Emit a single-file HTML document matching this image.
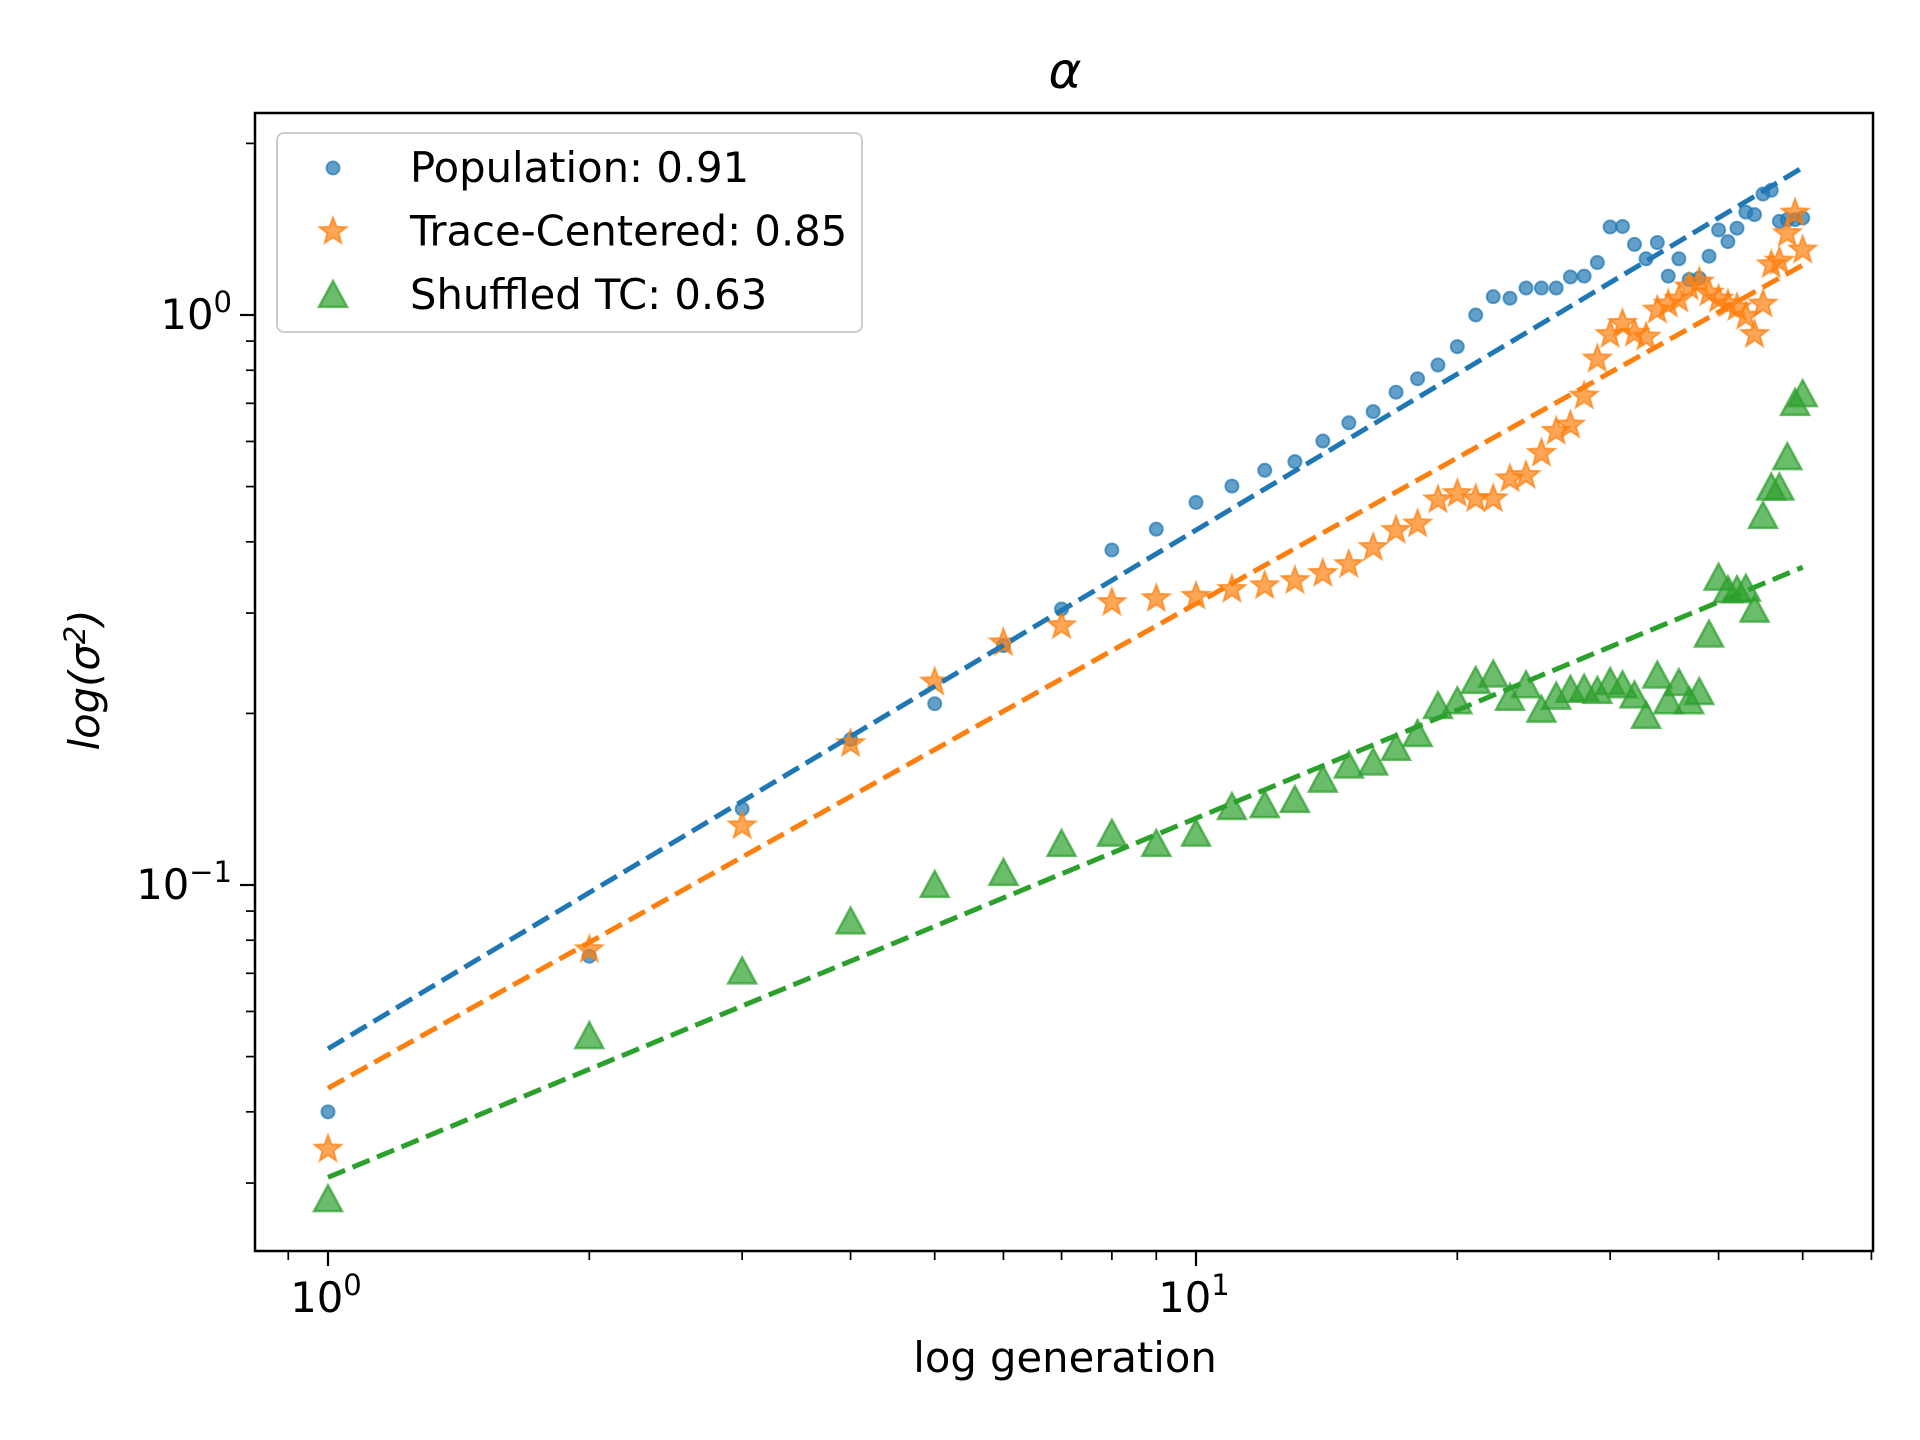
<!DOCTYPE html>
<html><head><meta charset="utf-8"><style>
html,body{margin:0;padding:0;background:#fff}
svg{display:block}
text{font-family:"DejaVu Sans","Liberation Sans",sans-serif;fill:#000}
</style></head><body>
<svg id="chart" width="1920" height="1440" viewBox="0 0 1920 1440" xmlns="http://www.w3.org/2000/svg">
<rect x="0" y="0" width="1920" height="1440" fill="#fff"/>
<text x="1065" y="88" font-size="50" font-style="italic" text-anchor="middle">α</text>
<g id="ticks"></g>
<g id="plot"></g>
<rect x="255" y="113" width="1618" height="1138" fill="none" stroke="#000" stroke-width="2.5"/>
<text x="1065" y="1372" font-size="41.7" text-anchor="middle">log generation</text>
<text transform="translate(99,680) rotate(-90)" font-size="41.7" text-anchor="middle" font-style="italic">log(σ<tspan font-size="29" dy="-14">2</tspan><tspan dy="14">)</tspan></text>
<g id="legend"></g>
</svg>
<script>
const generations = Array.from({length:50},(_,i)=>i+1);
const populationValues = [0.040,0.075,0.136,0.18,0.208,0.263,0.305,0.387,0.421,0.469,0.501,0.534,0.553,0.601,0.647,0.677,0.732,0.773,0.817,0.88,1.0,1.077,1.07,1.115,1.115,1.115,1.166,1.17,1.236,1.427,1.43,1.33,1.255,1.34,1.17,1.255,1.154,1.16,1.268,1.41,1.345,1.42,1.515,1.5,1.63,1.655,1.46,1.47,1.47,1.48];
const traceValues = [0.0344,0.077,0.127,0.177,0.227,0.266,0.285,0.313,0.318,0.321,0.330,0.335,0.342,0.352,0.365,0.391,0.419,0.430,0.474,0.486,0.476,0.476,0.516,0.523,0.572,0.625,0.641,0.721,0.837,0.924,0.966,0.929,0.915,1.02,1.045,1.066,1.12,1.143,1.093,1.066,1.045,1.03,0.995,0.924,1.045,1.225,1.243,1.39,1.51,1.30];
const shuffledValues = [0.0281,0.0543,0.0705,0.0863,0.1,0.105,0.118,0.123,0.118,0.123,0.137,0.138,0.141,0.153,0.162,0.164,0.174,0.184,0.206,0.21,0.228,0.234,0.213,0.224,0.203,0.214,0.22,0.221,0.219,0.227,0.224,0.215,0.198,0.233,0.21,0.226,0.21,0.218,0.275,0.346,0.329,0.329,0.331,0.304,0.444,0.498,0.498,0.563,0.701,0.726];
const fitSlopes = [0.91,0.85,0.63];
const fitIntercepts = [0.0516,0.044,0.0307];
const legendLabels = ["Population: 0.91","Trace-Centered: 0.85","Shuffled TC: 0.63"];
const xTickLabels = ["0","1"];
const yTickLabels = ["0","−1"];

const NS="http://www.w3.org/2000/svg";
const X=v=>328+Math.log10(v)*868;
const Y=v=>315-Math.log10(v)*570;
function mk(tag,attrs,parent){const e=document.createElementNS(NS,tag);for(const k in attrs)e.setAttribute(k,attrs[k]);parent.appendChild(e);return e;}
const plot=document.getElementById('plot'),ticks=document.getElementById('ticks'),legend=document.getElementById('legend');
const colors=["#1f77b4","#ff7f0e","#2ca02c"];
const light=["rgba(31,119,180,0.7)","rgba(255,127,14,0.7)","rgba(44,160,44,0.7)"];

// x ticks
const xMinor=[0.9,2,3,4,5,6,7,8,9,20,30,40,50,60];
xMinor.forEach(v=>{const t=mk('line',{x1:X(v),x2:X(v),y1:1251,y2:1260,stroke:'#000','stroke-width':1.7},ticks);
});
[1,10].forEach((v,i)=>{const t=mk('line',{x1:X(v),x2:X(v),y1:1251,y2:1266,stroke:'#000','stroke-width':2.2},ticks);

const l=mk('text',{x:X(v)-2,y:1312,'font-size':41.7,'text-anchor':'middle'},ticks);

l.innerHTML='10<tspan font-size="29" dy="-17">'+xTickLabels[i]+'</tspan>';});
// y ticks
const yMinor=[0.03,0.04,0.05,0.06,0.07,0.08,0.09,0.2,0.3,0.4,0.5,0.6,0.7,0.8,0.9,2];
yMinor.forEach(v=>{const t=mk('line',{x1:246,x2:255,y1:Y(v),y2:Y(v),stroke:'#000','stroke-width':1.7},ticks);
});
[1,0.1].forEach((v,i)=>{const t=mk('line',{x1:240,x2:255,y1:Y(v),y2:Y(v),stroke:'#000','stroke-width':2.2},ticks);

const l=mk('text',{x:232,y:Y(v)+14,'font-size':41.7,'text-anchor':'end'},ticks);

l.innerHTML='10<tspan font-size="29" dy="-17">'+yTickLabels[i]+'</tspan>';});

function star(cx,cy,R){let p=[];for(let k=0;k<10;k++){const r=k%2?R*0.42:R;const a=-Math.PI/2+k*Math.PI/5;p.push((cx+r*Math.cos(a)).toFixed(1)+','+(cy+r*Math.sin(a)).toFixed(1));}return p.join(' ');}
function tri(cx,cy,R){return `${cx},${cy-R} ${cx-R},${cy+R*0.85} ${cx+R},${cy+R*0.85}`;}
function marker(s,cx,cy,parent){
 if(s===0) return mk('circle',{cx,cy,r:6.5,fill:light[0],stroke:colors[0],'stroke-width':2,'stroke-opacity':0.7},parent);
 if(s===1) return mk('polygon',{points:star(cx,cy,14),fill:light[1],stroke:colors[1],'stroke-width':2,'stroke-opacity':0.7},parent);
 return mk('polygon',{points:tri(cx,cy,14),fill:light[2],stroke:colors[2],'stroke-width':2.5,'stroke-opacity':0.7},parent);
}
const series=[populationValues,traceValues,shuffledValues];
const names=['population','trace-centered','shuffled-tc'];
series.forEach((vals,s)=>{
 const g=mk('g',{},plot);
 
 vals.forEach((v,i)=>{const m=marker(s,X(generations[i]),Y(v),g);
  });
});
// fit lines on top
series.forEach((vals,s)=>{
 const x0=1,x1=generations[generations.length-1];
 const f=x=>fitIntercepts[s]*Math.pow(x,fitSlopes[s]);
 const l=mk('line',{x1:X(x0),y1:Y(f(x0)),x2:X(x1),y2:Y(f(x1)),stroke:colors[s],'stroke-width':5,'stroke-dasharray':'18.5,8'},plot);
 
});
// legend
const lb=mk('rect',{x:277,y:133,width:585,height:199,rx:7,fill:'rgba(255,255,255,0.8)',stroke:'#ccc','stroke-width':2},legend);

legendLabels.forEach((t,s)=>{
 const cy=168+s*63.5;
 const m=marker(s,333,cy,legend);
 
 const tx=mk('text',{x:410,y:cy+14,'font-size':41.7},legend);
 tx.textContent=t;
 
});
</script>
</body></html>
